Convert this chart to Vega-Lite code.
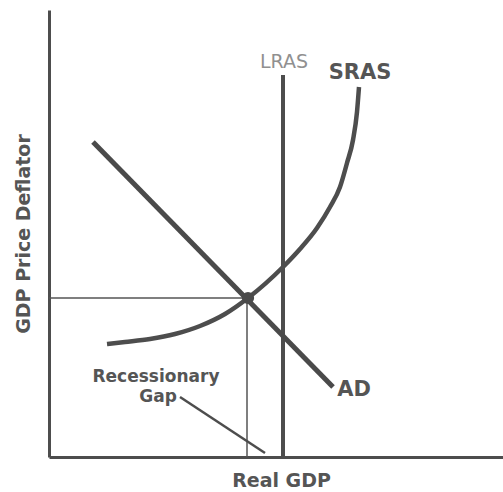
{
  "$schema": "https://vega.github.io/schema/vega-lite/v6.json",
  "width": 454,
  "height": 447,
  "autosize": {"type": "none"},
  "padding": {"left": 49, "top": 10, "right": 0, "bottom": 35},
  "background": "white",
  "config": {"view": {"stroke": null}, "font": "DejaVu Sans"},
  "datasets": {
    "ad": [{"x": 44, "y": 315}, {"x": 284, "y": 70}],
    "sras": [
      {"x": 58, "y": 113}, {"x": 76, "y": 115}, {"x": 101, "y": 118}, {"x": 126, "y": 123},
      {"x": 151, "y": 131}, {"x": 176, "y": 143}, {"x": 199, "y": 159}, {"x": 234, "y": 190},
      {"x": 251, "y": 208}, {"x": 268, "y": 229}, {"x": 281, "y": 250}, {"x": 291, "y": 270},
      {"x": 298, "y": 294}, {"x": 304, "y": 317}, {"x": 308, "y": 345}, {"x": 310, "y": 370}
    ],
    "lras": [{"x": 234, "y": 0}, {"x": 234, "y": 382}],
    "hline": [{"x": 0, "y": 159}, {"x": 199, "y": 159}],
    "vline": [{"x": 198, "y": 0}, {"x": 198, "y": 159}],
    "pointer": [{"x": 131, "y": 60}, {"x": 216, "y": 4}],
    "eq": [{"x": 199, "y": 159}],
    "boldlabels": [
      {"x": 311, "y": 384, "label": "SRAS", "size": "big"},
      {"x": 305, "y": 67, "label": "AD", "size": "big"},
      {"x": 107, "y": 80, "label": "Recessionary", "size": "small"},
      {"x": 109, "y": 60, "label": "Gap", "size": "small"}
    ],
    "lightlabels": [{"x": 235, "y": 395, "label": "LRAS"}]
  },
  "encoding": {
    "x": {
      "field": "x", "type": "quantitative",
      "scale": {"domain": [0, 454], "nice": false, "zero": false},
      "axis": {
        "domain": true, "domainColor": "#4d4d4d", "domainWidth": 3,
        "ticks": false, "labels": false, "grid": false,
        "title": "Real GDP", "titleFont": "DejaVu Sans", "titleFontSize": 19,
        "titleFontWeight": "bold", "titleColor": "#555555", "titlePadding": 14, "titleX": 232
      }
    },
    "y": {
      "field": "y", "type": "quantitative",
      "scale": {"domain": [0, 447], "nice": false, "zero": false},
      "axis": {
        "domain": true, "domainColor": "#4d4d4d", "domainWidth": 3,
        "ticks": false, "labels": false, "grid": false,
        "title": "GDP Price Deflator", "titleFont": "DejaVu Sans", "titleFontSize": 19,
        "titleFontWeight": "bold", "titleColor": "#555555", "titlePadding": 16
      }
    }
  },
  "layer": [
    {"data": {"name": "hline"}, "mark": {"type": "line", "color": "#555555", "strokeWidth": 1.5}},
    {"data": {"name": "vline"}, "mark": {"type": "line", "color": "#555555", "strokeWidth": 1.5}},
    {"data": {"name": "pointer"}, "mark": {"type": "line", "color": "#4d4d4d", "strokeWidth": 2.5}},
    {"data": {"name": "lras"}, "mark": {"type": "line", "color": "#4d4d4d", "strokeWidth": 4}},
    {"data": {"name": "sras"}, "mark": {"type": "line", "color": "#4d4d4d", "strokeWidth": 4.5, "interpolate": "monotone"}},
    {"data": {"name": "ad"}, "mark": {"type": "line", "color": "#4a4a4a", "strokeWidth": 5}},
    {"data": {"name": "eq"}, "mark": {"type": "point", "filled": true, "color": "#4a4a4a", "size": 150, "opacity": 1}},
    {
      "data": {"name": "boldlabels"},
      "mark": {"type": "text", "font": "DejaVu Sans", "fontWeight": "bold", "color": "#555555", "align": "center", "baseline": "middle"},
      "encoding": {
        "text": {"field": "label"},
        "size": {"field": "size", "type": "nominal", "scale": {"domain": ["big", "small"], "range": [21, 17]}, "legend": null}
      }
    },
    {
      "data": {"name": "lightlabels"},
      "mark": {"type": "text", "font": "DejaVu Sans", "fontSize": 19, "color": "#909090", "align": "center", "baseline": "middle"},
      "encoding": {"text": {"field": "label"}}
    }
  ]
}
